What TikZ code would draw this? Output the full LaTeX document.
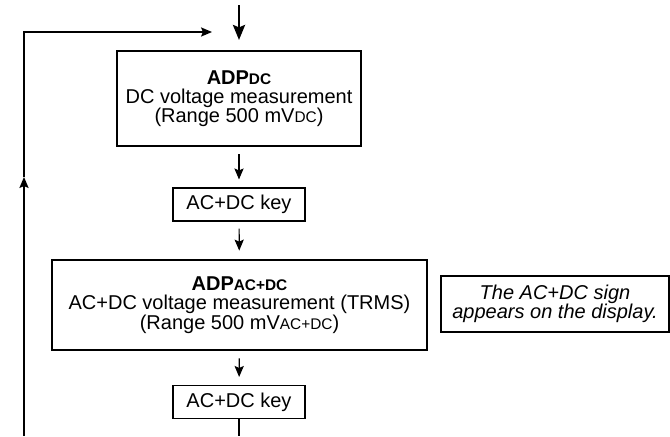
\documentclass[tikz,border=0pt]{standalone}
\usepackage{fontspec}
\setmainfont{Liberation Sans}
\usetikzlibrary{arrows.meta}
\newcommand{\smc}[1]{{\fontsize{7.7}{7.7}\selectfont #1}}
\begin{document}
\begin{tikzpicture}[x=0.5pt,y=-0.5pt,
  every node/.style={font=\fontsize{10}{9.6}\selectfont, align=center, inner sep=0pt},
  bigbox/.style={draw, line width=1.4pt, minimum width=122pt},
  keybox/.style={draw, line width=0.55pt, minimum width=66pt, minimum height=16.5pt},
  notebox/.style={draw, line width=0.55pt, minimum width=114pt, minimum height=28pt, font=\fontsize{10}{9.6}\selectfont\itshape},
  tip/.style={-{Stealth[length=5.5pt,width=4.6pt,inset=1pt]}},
  conn/.style={line width=0.6pt, tip, shorten <=3.5pt, shorten >=4pt},
  thickconn/.style={line width=1.3pt, -{Stealth[length=7.5pt,width=6pt,inset=1.2pt]}},
  loopline/.style={line width=0.6pt}
]
\useasboundingbox (0,0) rectangle (670,436);

\node[bigbox, minimum width=122pt, minimum height=47.5pt] (adpdc) at (239,98.5)
  {\textbf{ADP\smc{DC}}\\DC voltage measurement\\(Range 500 mV\smc{DC})};
\node[keybox] (key1) at (239,204.5) {AC+DC key};
\node[bigbox, minimum width=187.5pt, minimum height=45pt] (adpacdc) at (239.5,305)
  {\textbf{ADP\smc{AC+DC}}\\AC+DC voltage measurement (TRMS)\\(Range 500 mV\smc{AC+DC})};
\node[notebox] (note) at (555,304) {The AC+DC sign\\appears on the display.};
\node[keybox] (key2) at (239,402) {AC+DC key};

\coordinate (topin) at (239,5);
\coordinate (topend) at (239,40);
\coordinate (loopbot) at (24,436);
\coordinate (loopmid) at (24,177);
\coordinate (loopend) at (212,32);
\coordinate (outbot) at (239,436);

\draw[thickconn] (topin) -- (topend);
\draw[conn] (adpdc) -- (key1);
\draw[conn] (key1) -- (adpacdc);
\draw[conn] (adpacdc) -- (key2);
\draw[loopline] (key2) -- (outbot);
\draw[loopline, tip] (loopbot) -- (loopmid);
\draw[loopline, tip] (loopmid) |- (loopend);
\end{tikzpicture}
\end{document}
